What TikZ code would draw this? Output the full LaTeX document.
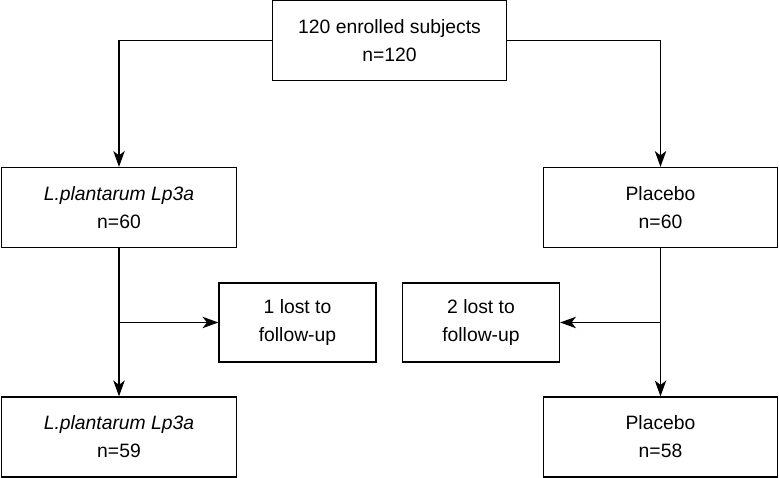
\documentclass[tikz,border=0pt]{standalone}
\usepackage{fontspec}
\setmainfont{Liberation Sans}
\usetikzlibrary{arrows.meta,positioning}

\begin{document}
\begin{tikzpicture}[
    font=\fontsize{11}{16}\selectfont,
    group/.style={draw, line width=0.75pt, align=center,
      minimum width=4.69cm, minimum height=1.6cm, inner sep=1mm},
    lost/.style={group, minimum width=3.14cm, minimum height=1.58cm},
    flow/.style={line width=0.75pt, -{Stealth[length=9pt, width=6.5pt, inset=2.5pt]}}
  ]
    \useasboundingbox (0,0) rectangle (15.58,9.56);
    \node[group] (enrolled) at (7.79,8.75) {120 enrolled subjects\\n=120};
    \node[group] (lpstart) at (2.38,5.41) {\textit{L.plantarum Lp3a}\\n=60};
    \node[group] (plstart) at (13.21,5.41) {Placebo\\n=60};
    \node[lost] (lostlp) at (5.95,3.11) {1 lost to\\follow-up};
    \node[lost] (lostpl) at (9.62,3.11) {2 lost to\\follow-up};
    \node[group] (lpend) at (2.38,0.82) {\textit{L.plantarum Lp3a}\\n=59};
    \node[group] (plend) at (13.21,0.82) {Placebo\\n=58};

    \draw[flow] (enrolled.west) -| (lpstart.north);
    \draw[flow] (enrolled.east) -| (plstart.north);
    \draw[flow] (lpstart) -- (lpend);
    \draw[flow] (plstart) -- (plend);
    \draw[flow] (lpstart.south |- lostlp.west) -- (lostlp.west);
    \draw[flow] (plstart.south |- lostpl.east) -- (lostpl.east);
  \end{tikzpicture}
\end{document}
